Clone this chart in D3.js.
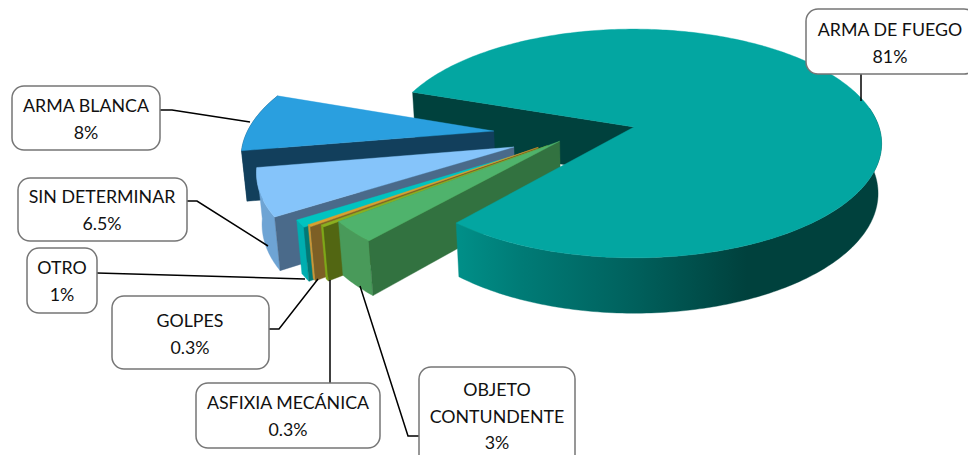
<!DOCTYPE html>
<meta charset="utf-8">
<style type="text/css">

body {
    margin: 0;
    background: #fff;
}

svg {
    display: block;
}

.box {
    fill: #fff;
    stroke: #767676;
    stroke-width: 1.5;
}

.leader {
    fill: none;
    stroke: #000;
    stroke-width: 1.5;
}

.label {
    font-family: Lato, "Open Sans", sans-serif;
    font-size: 17.8px;
    fill: #111;
    text-anchor: middle;
}

</style>
<body>
</body>

<script src="https://d3js.org/d3.v7.min.js"></script>
<script>

var categories = ["ARMA DE FUEGO", "OBJETO CONTUNDENTE", "ASFIXIA MECÁNICA", "GOLPES", "OTRO", "SIN DETERMINAR", "ARMA BLANCA"];
var values = [81, 3, 0.3, 0.3, 1, 6.5, 8];

// where each slice apex was pulled to, in pie radii from the big slice apex
var pull = [[0.008, 0], [-0.29, 0.125], [-0.337, 0.163], [-0.373, 0.177], [-0.385, 0.195], [-0.47, 0.174], [-0.561, 0.036]];

var topColors  = ["#03a6a1", "#4fb36c", "#8ab020", "#d9a030", "#00c4c0", "#85c4fa", "#2a9fdf"];
var rimColors  = ["url(#rimGrad)", "#499a5a", "#7ea818", "#c8963a", "#00aeb0", "#6ea4d4", "#123f5c"];
var wallColors = ["#00413d", "#327240", "#526612", "#7d5f25", "#007a76", "#4a6a8a", "#123f5c"];

// callouts: box, text centre, first baseline, leader polyline
var callouts = [
    {box: [806, 9, 170, 65], cx: 890, y: 36, lead: [[861, 74], [861, 101]]},
    {box: [419, 367, 156, 100], cx: 497, y: 396, lead: [[419, 436], [408, 436], [360, 286]], lines: ["OBJETO", "CONTUNDENTE"]},
    {box: [196, 383, 184, 65], cx: 288, y: 409, lead: [[330, 383], [330, 280]]},
    {box: [112, 296, 157, 73], cx: 190, y: 327, lead: [[269, 329], [279, 329], [318, 279]]},
    {box: [27, 248, 70, 65], cx: 62, y: 274, lead: [[97, 273], [305, 279]]},
    {box: [18, 178, 169, 63], cx: 102, y: 203, lead: [[187, 201], [197, 201], [268, 246]]},
    {box: [12, 86, 148, 64], cx: 86, y: 112, lead: [[160, 110], [172, 110], [250, 122]]}
];

var width = 968
  , height = 455;

var rad = Math.PI / 180;
var startAngle = -71 * rad;
var persp = 0.144, perspDown = 0.014;

// unit disc coordinates to pixels, the pie is seen from above with perspective
var xScale = d3.scaleLinear().domain([0, 1]).range([632, 632 + 245]);
var yScale = d3.scaleLinear().domain([0, 1]).range([127, 127 + 112]);
var depth = 50 / 112;

function project(u, v, h) {
    var w = 1 - persp * v + perspDown * h;
    return [xScale(u / w), yScale((v + depth * h) / w)];
}

var pie = d3.pie().sort(null)
    .startAngle(startAngle)
    .endAngle(startAngle + 2 * Math.PI);

var arcs = pie(values);

arcs.forEach(function(d, i) {
    d.ou = pull[i][0];
    d.ov = pull[i][1];
});

function edge(d, a, h) {
    return project(d.ou + Math.sin(a), d.ov - Math.cos(a), h);
}

function rimAngles(from, to) {
    var n = Math.max(2, Math.ceil((to - from) / (1 * rad)));
    return d3.range(n + 1).map(function(k) { return from + (to - from) * k / n; });
}

var line = d3.line();

function topPath(d) {
    var pts = [project(d.ou, d.ov, 0)];
    rimAngles(d.startAngle, d.endAngle).forEach(function(a) { pts.push(edge(d, a, 0)); });
    return line(pts) + "Z";
}

function rimPath(d, from) {
    var ang = rimAngles(from, d.endAngle);
    var pts = ang.map(function(a) { return edge(d, a, 0); })
        .concat(ang.slice().reverse().map(function(a) { return edge(d, a, 1); }));
    return line(pts) + "Z";
}

function wallPath(d) {
    return line([
        project(d.ou, d.ov, 0),
        edge(d, d.startAngle, 0),
        edge(d, d.startAngle, 1),
        project(d.ou, d.ov, 1)
    ]) + "Z";
}

var svg = d3.select("body").append("svg")
    .attr("width", width)
    .attr("height", height);

var grad = svg.append("defs").append("linearGradient")
    .attr("id", "rimGrad")
    .attr("gradientUnits", "userSpaceOnUse")
    .attr("x1", 458).attr("x2", 882)
    .attr("y1", 0).attr("y2", 0);

grad.selectAll("stop")
    .data([[0, "#008f88"], [0.15, "#007b76"], [0.4, "#00625e"], [0.68, "#00413d"], [1, "#00413d"]])
  .enter().append("stop")
    .attr("offset", function(d) { return d[0]; })
    .attr("stop-color", function(d) { return d[1]; });

var pieG = svg.append("g");

function drawPart(d, cls, path, color) {
    pieG.append("path")
        .attr("class", cls)
        .attr("d", path)
        .attr("fill", color)
        .attr("stroke", color)
        .attr("stroke-width", 0.4);
}

// back wall of the big slice goes first, it sits behind the others
drawPart(arcs[0], "wall", wallPath(arcs[0]), wallColors[0]);

// small slices, far to near
d3.range(arcs.length - 1, 0, -1).forEach(function(i) {
    var d = arcs[i];
    drawPart(d, "rim", rimPath(d, d.startAngle), rimColors[i]);
    drawPart(d, "wall", wallPath(d), wallColors[i]);
    drawPart(d, "top", topPath(d), topColors[i]);
});

// front of the big slice covers the others
drawPart(arcs[0], "rim", rimPath(arcs[0], 80 * rad), rimColors[0]);
drawPart(arcs[0], "top", topPath(arcs[0]), topColors[0]);

var labelLine = d3.line();

svg.selectAll(".leader")
    .data(callouts)
  .enter().append("path")
    .attr("class", "leader")
    .attr("d", function(d) { return labelLine(d.lead); });

var labels = svg.selectAll(".callout")
    .data(callouts)
  .enter().append("g")
    .attr("class", "callout");

labels.append("rect")
    .attr("class", "box")
    .attr("x", function(d) { return d.box[0]; })
    .attr("y", function(d) { return d.box[1]; })
    .attr("width", function(d) { return d.box[2]; })
    .attr("height", function(d) { return d.box[3]; })
    .attr("rx", 12);

labels.each(function(d, i) {
    var rows = (d.lines || [categories[i]]).concat(values[i] + "%");
    d3.select(this).selectAll("text")
        .data(rows)
      .enter().append("text")
        .attr("class", "label")
        .attr("x", d.cx)
        .attr("y", function(t, k) { return d.y + k * 26.5; })
        .text(function(t) { return t; });
});

</script>
